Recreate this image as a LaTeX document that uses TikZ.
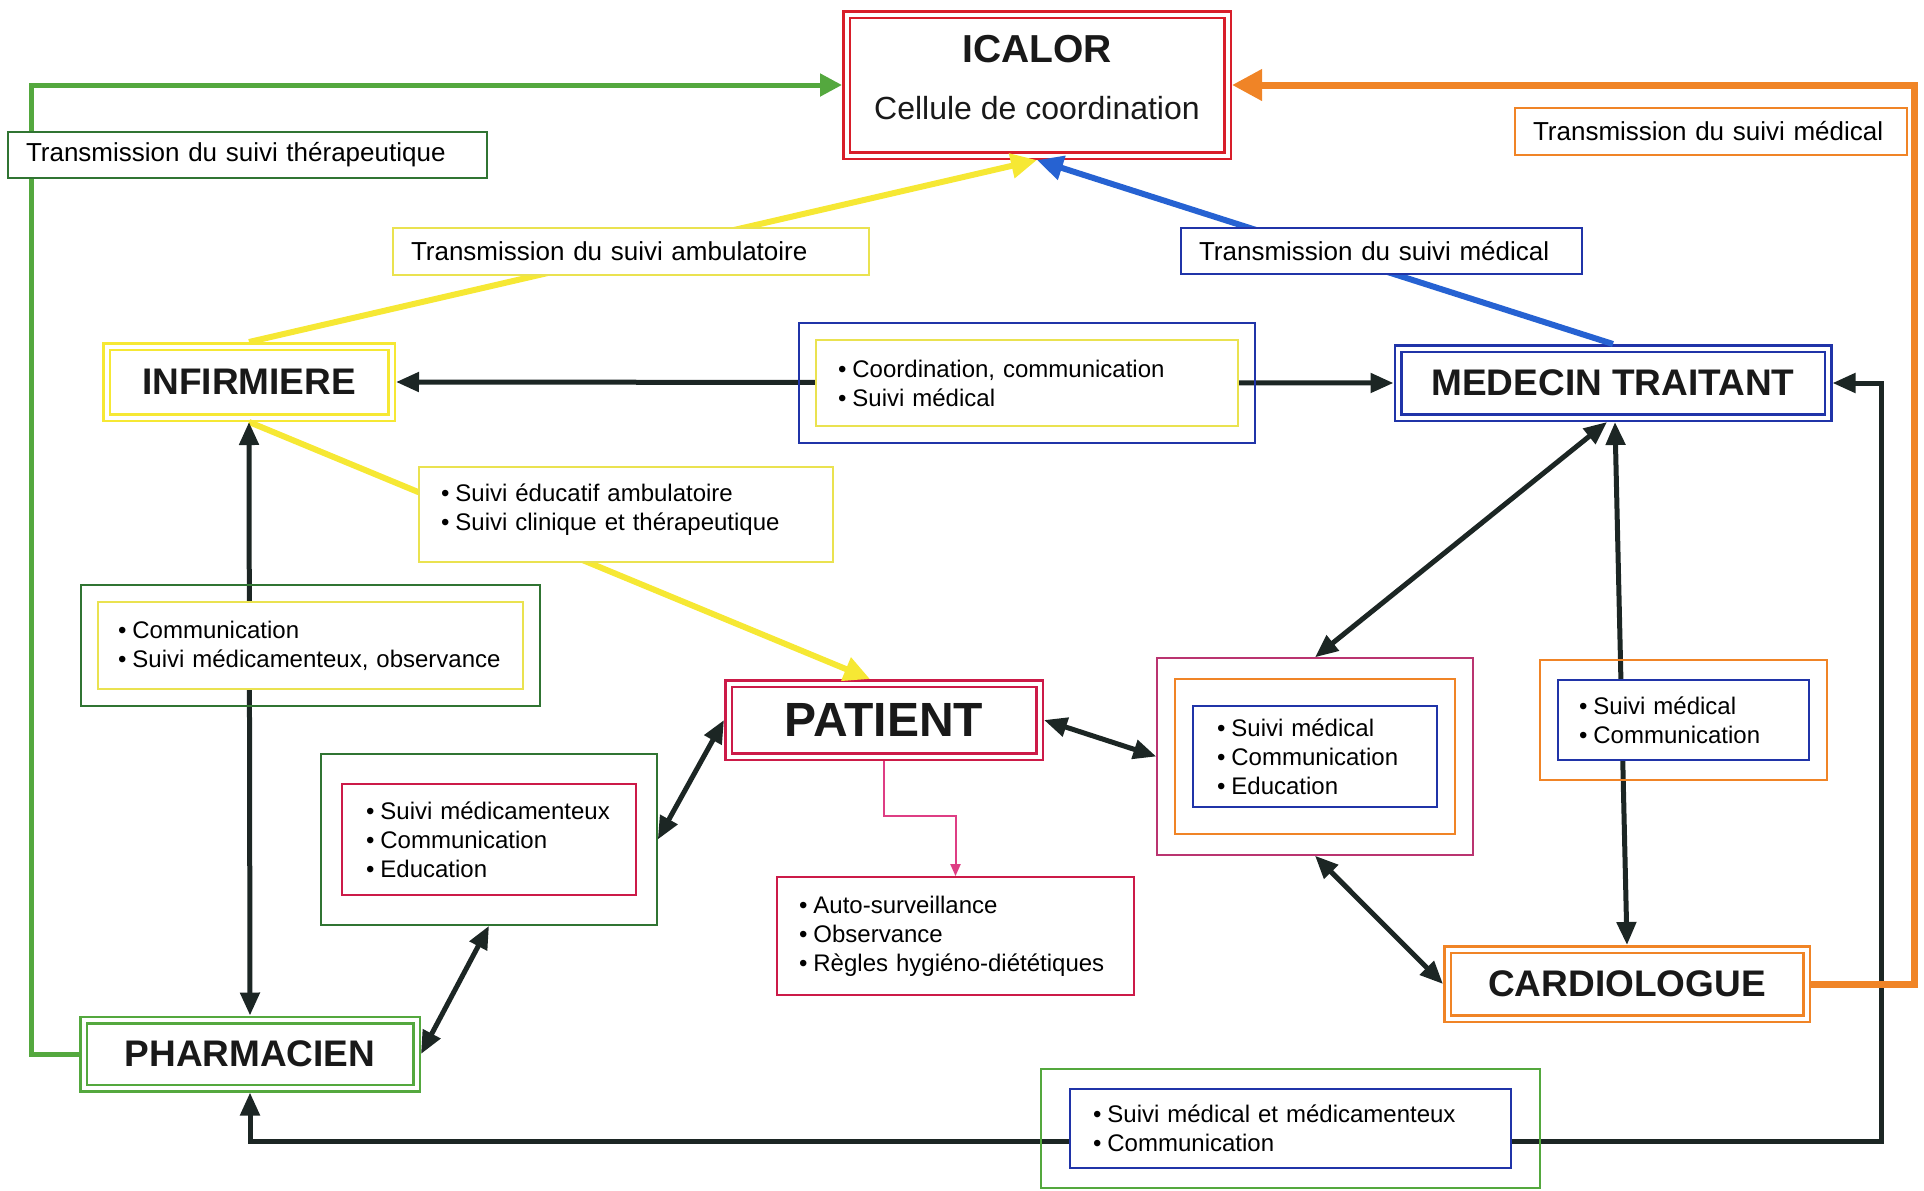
\documentclass[tikz,border=0pt]{standalone}
\usepackage{fontspec}
\setmainfont{Liberation Sans}
\usepackage{tikz}
\usetikzlibrary{arrows.meta,fit}
\newcommand{\puce}[1]{\mbox{\textbullet\hspace{0.25em}#1}}
\definecolor{encre}{RGB}{28,38,36}
\definecolor{rouge}{RGB}{216,30,42}
\definecolor{jaune}{RGB}{246,232,52}
\definecolor{jaunepale}{RGB}{234,226,80}
\definecolor{vert}{RGB}{84,168,62}
\definecolor{vertsombre}{RGB}{48,116,50}
\definecolor{bleu}{RGB}{38,98,210}
\definecolor{bleusombre}{RGB}{32,52,168}
\definecolor{orangef}{RGB}{240,132,38}
\definecolor{cramoisi}{RGB}{204,26,72}
\definecolor{framboise}{RGB}{186,52,112}
\definecolor{rose}{RGB}{222,62,132}

\begin{document}
\begin{tikzpicture}[
    x=0.5pt, y=-0.5pt,
    acteur/.style={rectangle,draw=#1,line width=1.25pt,double=white,double distance=2pt,
      outer sep=2.25pt,fill=white,text=black!90,font=\fontsize{18.5}{22}\selectfont\bfseries},
    trans/.style={rectangle,draw=#1,line width=1pt,fill=white,align=left,
      inner xsep=9pt,inner ysep=0pt,font=\fontsize{13}{16}\selectfont},
    liste/.style={rectangle,draw=#1,line width=0.9pt,fill=white,align=left,
      inner ysep=0pt,font=\fontsize{12}{14.5}\selectfont},
    cadre/.style={rectangle,draw=#1,line width=0.9pt,inner sep=0pt},
    lien/.style={draw=encre,line width=2.5pt,
      {Triangle[length=11.5pt,width=9.5pt]}-{Triangle[length=11.5pt,width=9.5pt]}},
    fleche/.style={draw=#1,line width=3pt,-{Triangle[length=13pt,width=12pt]}}
  ]
  \useasboundingbox (0,0) rectangle (1924,1190);

  \node[acteur=rouge,align=center,font=\fontsize{16}{28.5}\selectfont,
    minimum width=190.5pt,minimum height=70.5pt,text depth=7.5pt] (icalor) at (1037,85)
    {\textbf{\fontsize{19.5}{28.5}\selectfont ICALOR}\\Cellule de coordination};
  \node[acteur=jaune,minimum width=142.5pt,minimum height=35.5pt] (inf) at (249,382) {INFIRMIERE};
  \node[acteur=bleusombre,minimum width=215pt,minimum height=34.5pt] (med) at (1613,383) {MEDECIN TRAITANT};
  \node[acteur=cramoisi,minimum width=155.5pt,minimum height=36.5pt,
    font=\fontsize{24}{28}\selectfont\bfseries] (pat) at (884,720) {PATIENT};
  \node[acteur=vert,minimum width=166.5pt,minimum height=34pt] (pharm) at (250,1054) {PHARMACIEN};
  \node[acteur=orangef,minimum width=179.5pt,minimum height=34.5pt] (cardio) at (1627,984) {CARDIOLOGUE};

  \node[liste=cramoisi,text width=123pt,inner xsep=12pt,minimum height=55.5pt] (pharmatxt) at (489,839.5)
    {\puce{Suivi médicamenteux}\\\puce{Communication}\\\puce{Education}};
  \node[cadre=vertsombre,fit=(pharmatxt),inner xsep=10pt,inner ysep=14.5pt] (pharmabox) {};
  \node[liste=cramoisi,text width=156.5pt,inner xsep=11pt,minimum height=59pt] (soins) at (955.5,936)
    {\puce{Auto-surveillance}\\\puce{Observance}\\\puce{Règles hygiéno-diététiques}};
  \node[liste=bleusombre,text width=98pt,inner xsep=12pt,minimum height=50.5pt] (medtxt) at (1315,756.5)
    {\puce{Suivi médical}\\\puce{Communication}\\\puce{Education}};
  \node[cadre=orangef,fit=(medtxt),inner xsep=8.5pt,inner ysep=13pt] (medmid) {};
  \node[cadre=framboise,fit=(medmid),inner xsep=8.5pt,inner ysep=10pt] (medbox) {};

  \coordinate (gcoin) at (31,85);
  \coordinate (ocoin) at (1914,85);
  \coordinate (ncoin) at (1881,1141);

  % Liens
  \draw[fleche=jaune] (inf.north) -- (icalor.south);
  \draw[fleche=bleu] (med.north) -- (icalor.south);
  \draw[fleche=jaune] (inf.south) -- ([xshift=-7pt]pat.north);
  \draw[fleche=vert,line width=2.5pt,-{Triangle[length=11pt,width=11pt]}] (pharm.west) -| (gcoin) -- (icalor.west);
  \draw[lien] (inf.east) -- (med.west);
  \draw[lien] (inf.south) -- (pharm.north);
  \draw[lien] (pat.west) -- (pharmabox.east);
  \draw[lien] (pharmabox.south) -- (pharm.east);
  \draw[lien] (pat.east) -- (medbox.west);
  \draw[lien] ([xshift=-3pt]med.south) -- (medbox.north);
  \draw[lien] ([xshift=1pt]med.south) -- (cardio.north);
  \draw[lien] (medbox.south) -- (cardio.west);
  \draw[lien] (med.east) -| (ncoin) -| (pharm.south);
  \draw[fleche=orangef,line width=3.5pt,-{Triangle[length=15pt,width=15pt]}] (cardio.east) -| (ocoin) -- (icalor.east);
  \draw[draw=rose,line width=1pt,-{Triangle[length=6pt,width=5pt]}] (pat.south) -- ++(0,55) -| (soins.north);

  \node[trans=vertsombre,text width=221.5pt,minimum height=23pt] (ttherap) at (247.5,155) {Transmission du suivi thérapeutique};
  \node[trans=jaunepale,text width=220pt,minimum height=23.5pt] (tambu) at (631,251.5) {Transmission du suivi ambulatoire};
  \node[trans=bleusombre,text width=182.5pt,minimum height=23pt] (tmed) at (1381.5,251) {Transmission du suivi médical};
  \node[trans=orangef,text width=178pt,minimum height=23.5pt] (tcardio) at (1711,131.5) {Transmission du suivi médical};

  \node[liste=jaunepale,text width=189pt,inner xsep=11pt,minimum height=43pt] (coord) at (1027,383)
    {\puce{Coordination, communication}\\\puce{Suivi médical}};
  \node[cadre=bleusombre,fit=(coord),inner xsep=8pt,inner ysep=8pt] (coordcadre) {};
  \node[liste=jaunepale,text width=192.5pt,inner xsep=10pt,minimum height=43.5pt] (obs) at (310.5,645.5)
    {\puce{Communication}\\\puce{Suivi médicamenteux, observance}};
  \node[cadre=vertsombre,fit=(obs),inner xsep=8pt,inner ysep=8pt] (obscadre) {};
  \node[liste=jaunepale,text width=185pt,inner xsep=11pt,minimum height=47.5pt,text depth=22pt] (educ) at (626,514.5)
    {\puce{Suivi éducatif ambulatoire}\\\puce{Suivi clinique et thérapeutique}};
  \node[liste=bleusombre,text width=104.5pt,inner xsep=10.5pt,minimum height=40pt] (suivi) at (1683.5,720)
    {\puce{Suivi médical}\\\puce{Communication}};
  \node[cadre=orangef,fit=(suivi),inner xsep=8.5pt,inner ysep=9.5pt] (suivicadre) {};
  \node[liste=bleusombre,text width=197.5pt,inner xsep=11.5pt,minimum height=39.5pt] (bas) at (1290.5,1128.5)
    {\puce{Suivi médical et médicamenteux}\\\puce{Communication}};
  \node[cadre=vert,fit=(bas),inner xsep=14pt,inner ysep=9.5pt] (bascadre) {};
\end{tikzpicture}
\end{document}
